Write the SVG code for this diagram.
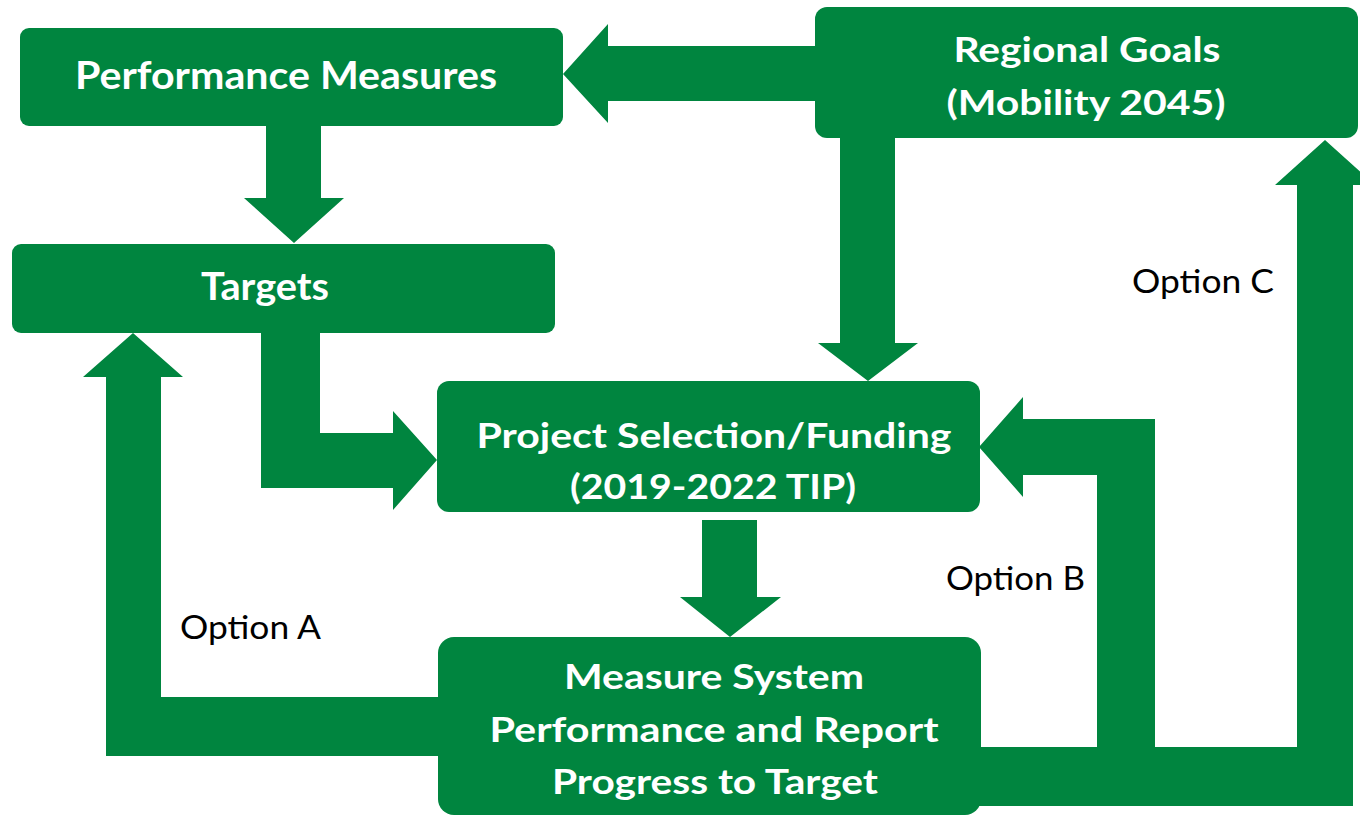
<svg xmlns="http://www.w3.org/2000/svg" width="1360" height="817" viewBox="0 0 1360 817">
<style>
.box{fill:#00853F}
.arr{fill:#00853F}
.t{font-family:Lato,"Open Sans","Liberation Sans",sans-serif;font-weight:700;fill:#ffffff;text-anchor:middle}
.big{font-size:38px}
.med{font-size:35px}
.lbl{font-family:Lato,"Open Sans","Liberation Sans",sans-serif;font-weight:400;font-size:32px;fill:#000000}
</style>
<rect width="1360" height="817" fill="#ffffff"/>
<g id="connectors">
<polygon class="arr" points="816,46 608,46 608,24 563,74 608,123 608,101 816,101"/>
<polygon class="arr" points="266,126 321,126 321,198 344,198 294,243 244,198 266,198"/>
<polygon class="arr" points="261,333 320,333 320,433 393,433 393,411 437,460 393,510 393,488 261,488"/>
<polygon class="arr" points="840,138 895,138 895,343 918,343 868,381 818,343 840,343"/>
<polygon class="arr" points="702,520 757,520 757,597 781,597 730,637 680,597 702,597"/>
<polygon class="arr" points="438,697 161,697 161,377 183,377 133,333 83,377 106,377 106,756 438,756"/>
<polygon class="arr" points="975,747 1297,747 1297,185 1275,185 1325,140 1375,185 1353,185 1353,806 975,806"/>
<polygon class="arr" points="1097,747 1097,475 1023,475 1023,497 979,447 1023,397 1023,419 1155,419 1155,747"/>
<text class="lbl" x="180" y="639" textLength="141" lengthAdjust="spacingAndGlyphs">Option A</text>
<text class="lbl" x="946" y="590" textLength="139" lengthAdjust="spacingAndGlyphs">Option B</text>
<text class="lbl" x="1132" y="293" textLength="142" lengthAdjust="spacingAndGlyphs">Option C</text>
</g>
<g id="node-performance-measures">
<rect class="box" x="20" y="28" width="543" height="98" rx="9"/>
<text class="t big" x="286" y="89" textLength="422" lengthAdjust="spacingAndGlyphs">Performance Measures</text>
</g>
<g id="node-targets">
<rect class="box" x="12" y="244" width="543" height="89" rx="9"/>
<text class="t big" x="265" y="300" textLength="128" lengthAdjust="spacingAndGlyphs">Targets</text>
</g>
<g id="node-regional-goals">
<rect class="box" x="815" y="7" width="543" height="131" rx="12"/>
<text class="t med" x="1087" y="62" textLength="267" lengthAdjust="spacingAndGlyphs">Regional Goals</text>
<text class="t med" x="1086" y="115" textLength="279" lengthAdjust="spacingAndGlyphs">(Mobility 2045)</text>
</g>
<g id="node-project-selection">
<rect class="box" x="437" y="381" width="543" height="131" rx="12"/>
<text class="t med" x="714" y="448" textLength="475" lengthAdjust="spacingAndGlyphs">Project Selection/Funding</text>
<text class="t med" x="713" y="499" textLength="286" lengthAdjust="spacingAndGlyphs">(2019-2022 TIP)</text>
</g>
<g id="node-measure-system">
<rect class="box" x="438" y="637" width="543" height="178" rx="16"/>
<text class="t med" x="714" y="689" textLength="300" lengthAdjust="spacingAndGlyphs">Measure System</text>
<text class="t med" x="714" y="742" textLength="449" lengthAdjust="spacingAndGlyphs">Performance and Report</text>
<text class="t med" x="715" y="794" textLength="326" lengthAdjust="spacingAndGlyphs">Progress to Target</text>
</g>
</svg>
